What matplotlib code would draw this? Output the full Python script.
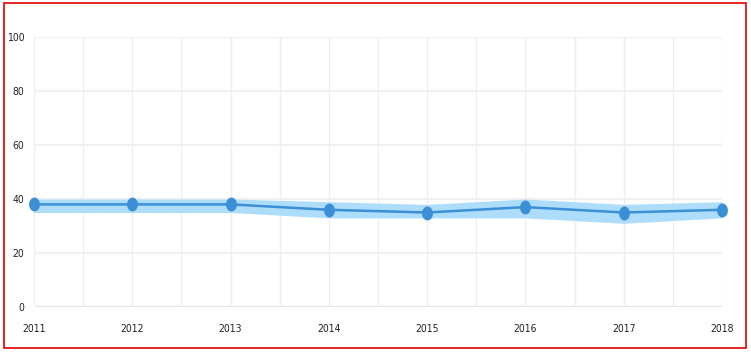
import matplotlib
matplotlib.use("Agg")
import matplotlib.pyplot as plt
import numpy as np
from matplotlib.patches import Rectangle
from matplotlib.path import Path

years = [2011, 2012, 2013, 2014, 2015, 2016, 2017, 2018]
values = [38, 38, 38, 36, 35, 37, 35, 36]
lower = [35, 35, 35, 33, 33, 33, 31, 33]
upper = [40, 40, 40, 39, 38, 40, 38, 39]
y_ticks = [0, 20, 40, 60, 80, 100]

plt.rcParams["font.family"] = ["DejaVu Sans"]
plt.rcParams["font.stretch"] = "condensed"

W, H = 751, 354
fig = plt.figure(figsize=(W / 100, H / 100), dpi=100)
ax = fig.add_axes([34 / W, 47 / H, (722 - 34) / W, (307 - 37) / H])

ax.set_xlim(years[0], years[-1])
ax.set_ylim(0, 100)

for y in y_ticks:
    ax.axhline(y, color="#f1f1f3" if y else "#e4e4ea", lw=1.6 if y else 2.4, zorder=0)
half = [years[0] + 0.5 * i for i in range(2 * (len(years) - 1) + 1)]
for x in half:
    ax.axvline(x, color="#efeff2", lw=1.0, zorder=0)

t = np.linspace(0, 2 * np.pi, 40)
ell = Path(np.column_stack([0.78 * np.cos(t), np.sin(t)]), closed=True)

ax.fill_between(years, lower, upper, color="#aedcfb", lw=0, zorder=2)
ax.plot(years, values, color="#3a8fd6", lw=1.8, zorder=3)
ax.plot(years, values, ls="none", marker=ell, color="#3a8fd6", ms=10, mew=0,
        zorder=4, clip_on=False)

for s in ax.spines.values():
    s.set_visible(False)
ax.set_xticks(years)
ax.set_xticklabels([str(y) for y in years])
ax.set_yticks(y_ticks)
ax.set_yticklabels([str(y) for y in y_ticks])
ax.tick_params(axis="both", length=0, labelsize=7.5, labelcolor="#222222")
ax.tick_params(axis="x", pad=12)
ax.tick_params(axis="y", pad=7)

fig.patches.append(Rectangle((4 / W, 1 - 348 / H), (746 - 4) / W, (348 - 3) / H,
                             transform=fig.transFigure, fill=False,
                             edgecolor="#e00000", lw=1.2))

fig.savefig("out.png", dpi=100)
